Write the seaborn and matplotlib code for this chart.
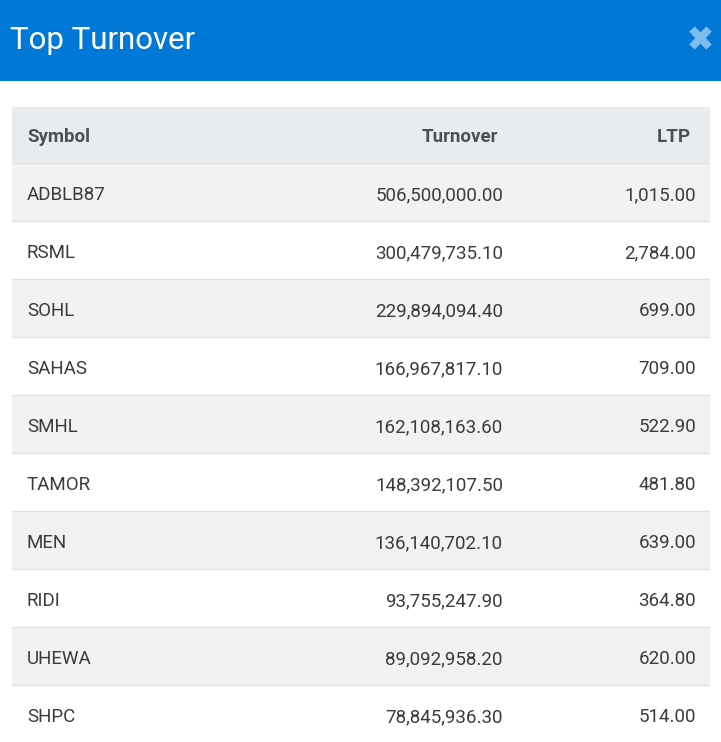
import numpy as np
import seaborn as sns
import matplotlib.pyplot as plt
from matplotlib.colors import ListedColormap
from matplotlib.patches import Rectangle

# Data -------------------------------------------------------------------------

title = "Top Turnover"
columns = ["Symbol", "Turnover", "LTP"]
symbols = ["ADBLB87", "RSML", "SOHL", "SAHAS", "SMHL", "TAMOR", "MEN", "RIDI", "UHEWA", "SHPC"]
turnover = [506500000.00, 300479735.10, 229894094.40, 166967817.10, 162108163.60,
            148392107.50, 136140702.10, 93755247.90, 89092958.20, 78845936.30]
ltp = [1015.00, 2784.00, 699.00, 709.00, 522.90, 481.80, 639.00, 364.80, 620.00, 514.00]

# Style ------------------------------------------------------------------------

sns.set_theme(style = "white")
plt.rcParams["font.family"] = ["Roboto", "DejaVu Sans"]

W, H = 721, 742
blue = "#0078d7"
head_bg = "#e9ecef"
stripe_bg = "#f2f2f2"
line_col = "#dee2e6"
text_col = "#3b3b3b"
head_col = "#495057"

fig = plt.figure(figsize = (W / 100, H / 100), dpi = 100)
fig.patch.set_facecolor("white")

# Frame in pixel coordinates ---------------------------------------------------

ax0 = fig.add_axes([0, 0, 1, 1])
ax0.set_xlim(0, W)
ax0.set_ylim(H, 0)
ax0.axis("off")

ax0.add_patch(Rectangle((0, 0), W, 81, color = blue, lw = 0))
ax0.text(10, 49, title, color = "white", fontsize = 22.5, va = "baseline", ha = "left")

# close cross
ax0.plot([692, 709], [29, 47], color = "#7fbbeb", lw = 5.5, solid_capstyle = "butt")
ax0.plot([692, 709], [47, 29], color = "#7fbbeb", lw = 5.5, solid_capstyle = "butt")

# header row
tbl_left, tbl_right = 12, 710
ax0.add_patch(Rectangle((tbl_left, 107), tbl_right - tbl_left, 56, color = head_bg, lw = 0))
head_x = [27, 498, 691]
head_ha = ["left", "right", "right"]
for label, x, ha in zip(columns, head_x, head_ha):
  ax0.text(x, 142, label, color = head_col, fontsize = 13.5, fontweight = "bold", va = "baseline", ha = ha)

# Body with seaborn heatmap stripes --------------------------------------------

n = len(symbols)
row_h = 58
body_top = 163
body_h = n * row_h
ax = fig.add_axes([tbl_left / W, (H - body_top - body_h) / H, (tbl_right - tbl_left) / W, body_h / H])

stripes = np.tile((np.arange(n) % 2)[:, None], (1, 3))
sns.heatmap(stripes, cmap = ListedColormap([stripe_bg, "white"]), cbar = False,
            xticklabels = False, yticklabels = False, ax = ax)
ax.set_xlim(0, 3)
ax.set_ylim(n, 0)

unit = (tbl_right - tbl_left) / 3
col_x = [(27 - tbl_left) / unit, (503 - tbl_left) / unit, (696 - tbl_left) / unit]
base_off = 8.5 / row_h

for i in range(n):
  ax.axhline(i, color = line_col, lw = 1)
  y = i + 0.5 + base_off
  ax.text(col_x[0], y, symbols[i], color = text_col, fontsize = 13.5, va = "baseline", ha = "left")
  ax.text(col_x[1], y, f"{turnover[i]:,.2f}", color = text_col, fontsize = 13.5, va = "baseline", ha = "right")
  ax.text(col_x[2], y, f"{ltp[i]:,.2f}", color = text_col, fontsize = 13.5, va = "baseline", ha = "right")

for s in ax.spines.values():
  s.set_visible(False)

fig.savefig("out.png", dpi = 100)
